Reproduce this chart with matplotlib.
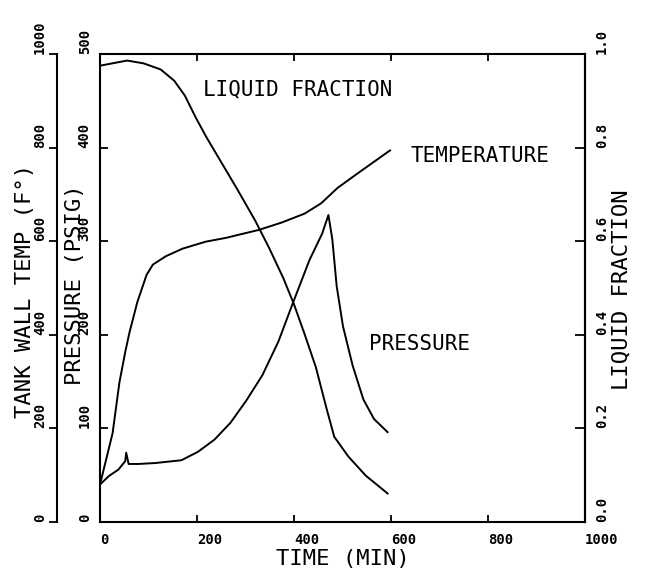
import matplotlib
matplotlib.use("Agg")
import matplotlib.pyplot as plt

# (time in minutes)
time_temp = [0, 26, 40, 52, 61, 77, 96, 109, 136, 170, 218, 259, 327, 375, 422, 456, 490, 530, 598]
temp = [80, 190, 298, 363, 406, 470, 528, 550, 568, 584, 599, 607, 624, 640, 659, 681, 714, 744, 794]

time_press = [0, 18, 38, 52, 54, 59, 79, 114, 168, 202, 236, 269, 302, 335, 368, 397, 432, 458,
              471, 479, 488, 501, 521, 543, 565, 593]
press = [40, 49, 56, 65, 74, 62, 62, 63, 66, 75, 88, 106, 130, 157, 193, 233, 280, 308,
         328, 302, 252, 209, 167, 131, 110, 96]

time_frac = [0, 56, 90, 125, 153, 175, 197, 219, 247, 283, 320, 349, 378, 400, 422, 445, 468,
             483, 512, 548, 593]
frac = [0.975, 0.986, 0.980, 0.967, 0.943, 0.911, 0.865, 0.823, 0.774, 0.711, 0.644, 0.585,
        0.521, 0.465, 0.401, 0.331, 0.239, 0.182, 0.140, 0.099, 0.061]

x_ticks = [0, 200, 400, 600, 800, 1000]
p_ticks = [0, 100, 200, 300, 400, 500]
t_ticks = [0, 200, 400, 600, 800, 1000]
f_ticks = [0.0, 0.2, 0.4, 0.6, 0.8, 1.0]

mono = "DejaVu Sans Mono"
plt.rcParams['font.family'] = mono

fig = plt.figure(figsize=(6.45, 5.77), dpi=100)
ax = fig.add_axes([100 / 645, 55 / 577, 485 / 645, 468 / 577])
ax_t = ax.twinx()
ax_f = ax.twinx()

tick_font = {'fontsize': 10, 'fontweight': 'bold'}

# pressure (main axis)
ax.plot(time_press, press, color='k', lw=1.4)
ax.set_xlim(0, 1000)
ax.set_ylim(0, 500)
ax.set_xticks(x_ticks)
ax.set_xticklabels([str(v) for v in x_ticks], ha='left', **tick_font)
ax.set_yticks(p_ticks)
ax.set_yticklabels([str(v) for v in p_ticks], rotation=90, va='bottom', **tick_font)
ax.tick_params(axis='x', direction='in', length=5, width=1.3, top=True, pad=8)
ax.tick_params(axis='y', direction='in', length=6, width=1.3, pad=6)

# tank wall temperature on an offset left axis
ax_t.plot(time_temp, temp, color='k', lw=1.4)
ax_t.set_ylim(0, 1000)
for s in ['right', 'top', 'bottom']:
    ax_t.spines[s].set_visible(False)
ax_t.spines['left'].set_visible(True)
ax_t.spines['left'].set_position(('outward', 31))
ax_t.spines['left'].set_linewidth(1.5)
ax_t.yaxis.tick_left()
ax_t.set_yticks(t_ticks)
ax_t.set_yticklabels([str(v) for v in t_ticks], rotation=90, va='bottom', **tick_font)
ax_t.tick_params(axis='y', direction='out', length=6, width=1.3, pad=1)

# liquid fraction on the right
ax_f.plot(time_frac, frac, color='k', lw=1.4)
ax_f.set_ylim(0, 1)
for s in ['left', 'top', 'bottom']:
    ax_f.spines[s].set_visible(False)
ax_f.set_yticks(f_ticks)
ax_f.set_yticklabels(['%.1f' % v for v in f_ticks], rotation=90, va='bottom', ha='left', **tick_font)
ax_f.tick_params(axis='y', direction='in', length=7, width=1.3, pad=7)

for s in ax.spines.values():
    s.set_linewidth(1.5)
ax_f.spines['right'].set_linewidth(1.5)

# axis titles
ax.text(0.5, -0.079, "TIME (MIN)", transform=ax.transAxes, ha='center', va='center', fontsize=16)
ax.text(-0.155, 0.494, "TANK WALL TEMP (F°)", transform=ax.transAxes, rotation=90,
        ha='center', va='center', fontsize=16)
ax.text(-0.052, 0.508, "PRESSURE (PSIG)", transform=ax.transAxes, rotation=90,
        ha='center', va='center', fontsize=16)
ax.text(1.076, 0.496, "LIQUID FRACTION", transform=ax.transAxes, rotation=90,
        ha='center', va='center', fontsize=16)

# curve labels
ax.text(212, 462, "LIQUID FRACTION", ha='left', va='center', fontsize=15)
ax.text(640, 391, "TEMPERATURE", ha='left', va='center', fontsize=15)
ax.text(555, 190, "PRESSURE", ha='left', va='center', fontsize=15)

fig.savefig("out.png", dpi=100)
